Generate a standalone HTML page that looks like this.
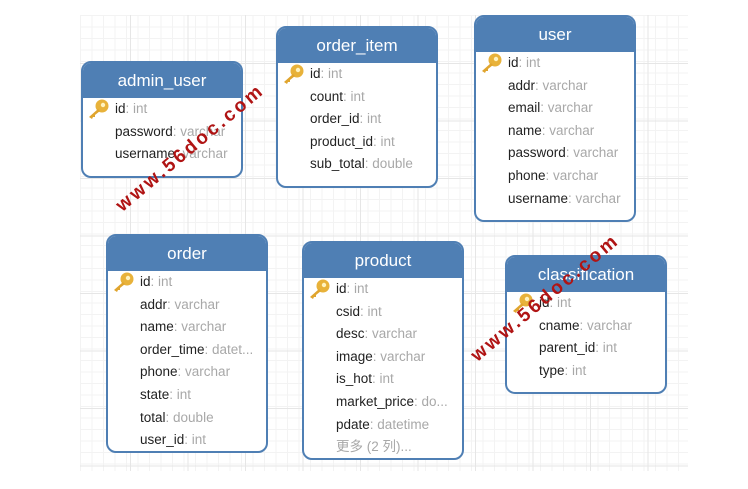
<!DOCTYPE html>
<html><head><meta charset="utf-8"><style>
body{margin:0;width:748px;height:489px;background:#fff;position:relative;overflow:hidden;font-family:"Liberation Sans","Noto Sans CJK SC",sans-serif}
.grid{position:absolute;left:80px;top:15px;width:608px;height:456px;
background-image:linear-gradient(#e6e6e6 1px,transparent 1px),linear-gradient(90deg,#e6e6e6 1px,transparent 1px),linear-gradient(#f3f3f3 1px,transparent 1px),linear-gradient(90deg,#f3f3f3 1px,transparent 1px);
background-size:57.5px 57.5px,57.5px 57.5px,11.5px 11.5px,11.5px 11.5px;background-position:-7px 48px,50px 0,0 0,0 0}
.t{position:absolute;width:158px;border:2px solid #4f7fb4;border-radius:10px;background:#fff;overflow:hidden}
.h{background:#4f7fb4;color:#fff;text-align:center;font-size:17px;height:35px;line-height:35px}
.r{position:relative;height:22.6px;line-height:22.6px;font-size:13.5px;color:#222;padding-left:32px;white-space:nowrap}
.r span{color:#a8a8a8}
.k{position:absolute;left:4px;top:0px;width:24px;height:22px}
.wm{position:absolute;color:#b01414;font-weight:bold;font-size:19px;letter-spacing:3px;transform-origin:0 0;white-space:nowrap}
</style></head><body>
<div class="grid"></div>
<svg width="0" height="0" style="position:absolute"><defs><g id="key"><circle cx="15" cy="8" r="6.5" fill="#e8b23a"/><circle cx="16" cy="7" r="2.2" fill="#fff3c0"/><path d="M11 11 L2 19 L5 21 L6 19 L8 19 L8 17 L13 13Z" fill="#e0a52e"/></g></defs></svg>

<div class="t" style="left:81px;top:61px;height:113px">
<div class="h">admin_user</div>
<div class="r"><svg class="k"><use href="#key"/></svg>id<span>: int</span></div>
<div class="r">password<span>: varchar</span></div>
<div class="r">username<span>: varchar</span></div>
</div>

<div class="t" style="left:276px;top:26px;height:158px">
<div class="h">order_item</div>
<div class="r"><svg class="k"><use href="#key"/></svg>id<span>: int</span></div>
<div class="r">count<span>: int</span></div>
<div class="r">order_id<span>: int</span></div>
<div class="r">product_id<span>: int</span></div>
<div class="r">sub_total<span>: double</span></div>
</div>

<div class="t" style="left:474px;top:15px;height:203px">
<div class="h">user</div>
<div class="r"><svg class="k"><use href="#key"/></svg>id<span>: int</span></div>
<div class="r">addr<span>: varchar</span></div>
<div class="r">email<span>: varchar</span></div>
<div class="r">name<span>: varchar</span></div>
<div class="r">password<span>: varchar</span></div>
<div class="r">phone<span>: varchar</span></div>
<div class="r">username<span>: varchar</span></div>
</div>

<div class="t" style="left:106px;top:234px;height:215px">
<div class="h">order</div>
<div class="r"><svg class="k"><use href="#key"/></svg>id<span>: int</span></div>
<div class="r">addr<span>: varchar</span></div>
<div class="r">name<span>: varchar</span></div>
<div class="r">order_time<span>: datet...</span></div>
<div class="r">phone<span>: varchar</span></div>
<div class="r">state<span>: int</span></div>
<div class="r">total<span>: double</span></div>
<div class="r">user_id<span>: int</span></div>
</div>

<div class="t" style="left:302px;top:241px;height:215px">
<div class="h">product</div>
<div class="r"><svg class="k"><use href="#key"/></svg>id<span>: int</span></div>
<div class="r">csid<span>: int</span></div>
<div class="r">desc<span>: varchar</span></div>
<div class="r">image<span>: varchar</span></div>
<div class="r">is_hot<span>: int</span></div>
<div class="r">market_price<span>: do...</span></div>
<div class="r">pdate<span>: datetime</span></div>
<div class="r"><span>更多 (2 列)...</span></div>
</div>

<div class="t" style="left:505px;top:255px;height:135px">
<div class="h">classification</div>
<div class="r"><svg class="k"><use href="#key"/></svg>id<span>: int</span></div>
<div class="r">cname<span>: varchar</span></div>
<div class="r">parent_id<span>: int</span></div>
<div class="r">type<span>: int</span></div>
</div>

<div class="wm" style="left:112px;top:200px;transform:rotate(-40deg)">www.56doc.com</div>
<div class="wm" style="left:467px;top:350px;transform:rotate(-40deg)">www.56doc.com</div>
</body></html>
